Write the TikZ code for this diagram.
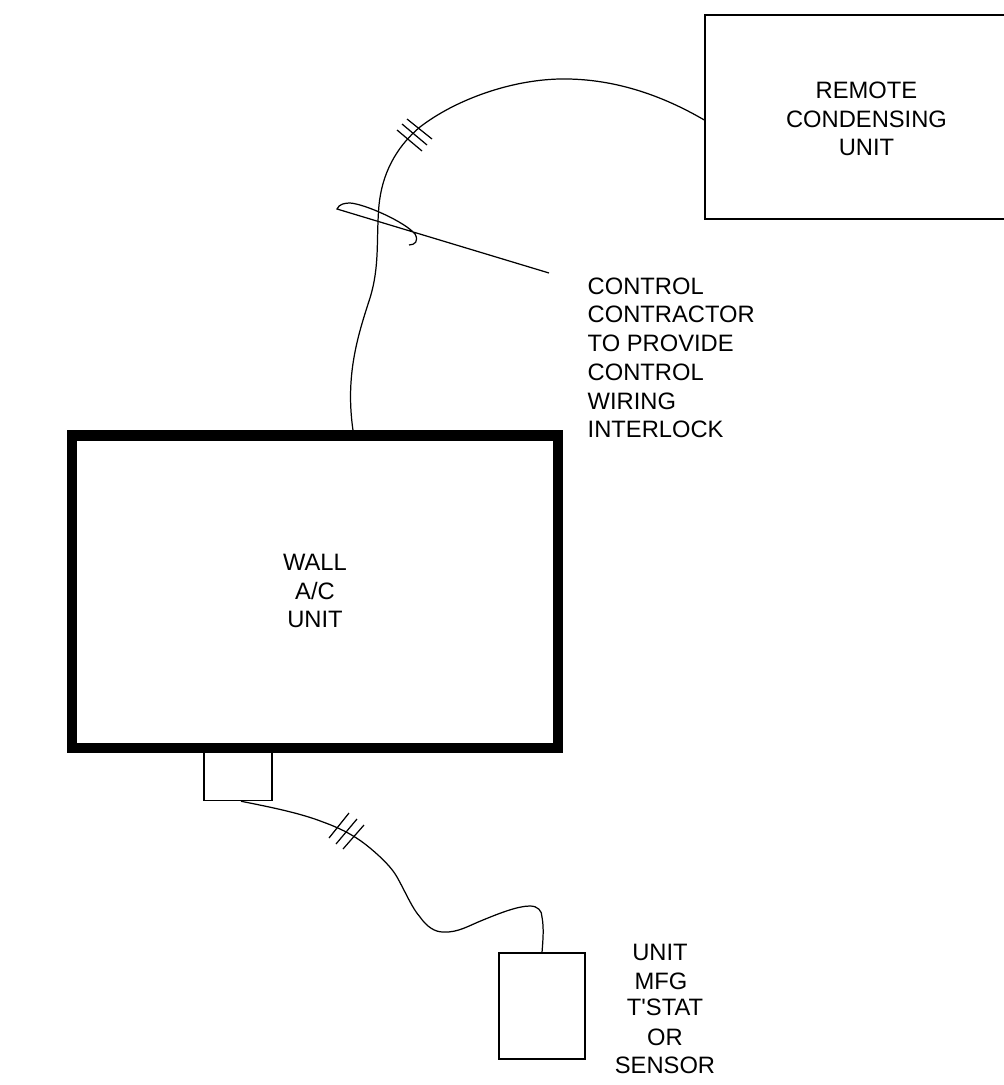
\documentclass[tikz,border=0pt]{standalone}
\usepackage{fontspec}
\newfontfamily\labelfamily{Liberation Sans}
\usepackage{tikz}
\usetikzlibrary{positioning,calc}
\newcommand{\labelfont}{\labelfamily\fontsize{6.75}{8.16}\selectfont}
\tikzset{
  unitbox/.style  ={rectangle,draw,line width=0.35pt,inner sep=0pt},
  wallbox/.style  ={unitbox,line width=2.9pt},
  cable/.style    ={line width=0.35pt},
  slash/.style    ={line width=0.35pt},
  note/.style     ={inner sep=0pt,align=center,font=\labelfont},
}

\begin{document}
\begin{tikzpicture}[x=0.01cm,y=-0.01cm]
  \useasboundingbox (0,0) rectangle (1004,1085);
  % condenser box runs off the right of the page
  \node[unitbox,minimum width=3.23cm,minimum height=2.04cm] (condenser) at (866.5,117){};
  \node[wallbox,minimum width=4.855cm,minimum height=3.125cm] (wall) at (315.25,591.75){};
  \node[unitbox,minimum width=0.68cm,minimum height=0.48cm,anchor=north] (stub) at (238,752){};
  \node[unitbox,minimum width=0.86cm,minimum height=1.06cm] (tstat) at (542,1006){};
  \node[note] (condenserlabel) at (866.5,119){REMOTE\\CONDENSING\\UNIT};
  \node[note] (walllabel) at (315,591){WALL\\A/C\\UNIT};
  \node[note,align=left,anchor=north west] (interlock) at (587,277){CONTROL\\CONTRACTOR\\TO PROVIDE\\CONTROL\\WIRING\\INTERLOCK};
  \foreach \x/\y/\name/\txt in {660/952/unit/UNIT,661/981/mfg/MFG,665/1007/stat/T'STAT,665/1037/or/OR,665/1065/sensor/SENSOR}{
     \node[note] (\name) at (\x,\y){\txt};
  }
  \coordinate (leaderend) at (549,273);
  % refrigerant line
  \draw[cable] (condenser.west |- 600,120) .. controls (670,100) and (620,78) .. (560,79)
     .. controls (510,80) and (455,100) .. (420,127)
     .. controls (395,148) and (382,175) .. (379,205)
     .. controls (376,240) and (380,265) .. (370,298)
     .. controls (358,335) and (345,375) .. (wall.north -| 353,436);
  \draw[cable] (leaderend) -- (337,209)
     .. controls (339,204) and (345,203) .. (350,203)
     .. controls (365,204) and (405,222) .. (415,234)
     .. controls (419,241) and (415,245) .. (409,245);
  % control wiring
  \draw[cable] (stub.south -| 241,800) .. controls (270,807) and (300,813) .. (323,822)
     .. controls (345,830) and (358,838) .. (370,848)
     .. controls (382,858) and (392,868) .. (397,877)
     .. controls (406,893) and (412,908) .. (420,917)
     .. controls (427,927) and (435,932) .. (443,932)
     .. controls (458,933) and (470,925) .. (483,920)
     .. controls (500,913) and (518,906) .. (530,906)
     .. controls (538,906) and (542,911) .. (542,917)
     .. controls (544,928) and (543,940) .. (tstat.north);
  % slashes on the lines
  \foreach \xa/\ya/\xb/\yb in {407/119/432/139,402/124/427/145,397/130/422/151,349/813/329/838,357/819/336/844,364/825/343/849}{
     \draw[slash] (\xa,\ya) -- (\xb,\yb);
  }
\end{tikzpicture}
\end{document}
